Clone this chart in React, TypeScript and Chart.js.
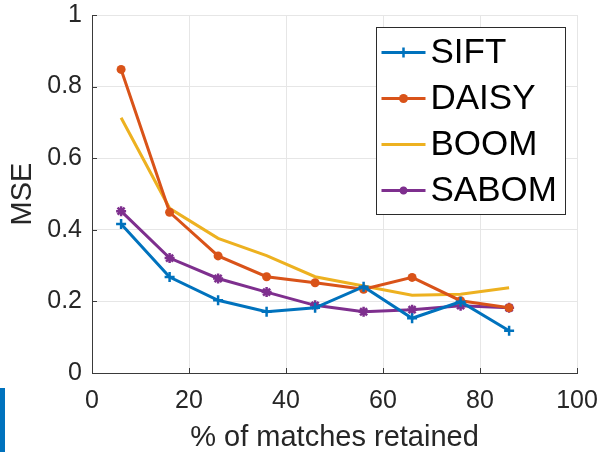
import { useEffect, useRef } from 'react';
import { Chart, registerables } from 'chart.js';

Chart.register(...registerables);

// Percentage of matches retained (x positions of every series)
const retained = [6, 16, 26, 36, 46, 56, 66, 76, 86];

// Mean squared error per descriptor
const siftMse = [0.416, 0.268, 0.203, 0.171, 0.182, 0.241, 0.153, 0.199, 0.118];
const daisyMse = [0.848, 0.449, 0.327, 0.269, 0.252, 0.234, 0.267, 0.202, 0.182];
const boomMse = [0.713, 0.46, 0.376, 0.328, 0.269, 0.243, 0.217, 0.22, 0.238];
const sabomMse = [0.452, 0.321, 0.264, 0.226, 0.189, 0.171, 0.177, 0.188, 0.182];

const seriesNames = ['SIFT', 'DAISY', 'BOOM', 'SABOM'];
const seriesColors = ['#0072BD', '#D95319', '#EDB120', '#7E2F8E'];
const seriesMarkers = ['cross', 'circle', false, 'star'] as const;

const xTicks = [0, 20, 40, 60, 80, 100];
const yTicks = [0, 0.2, 0.4, 0.6, 0.8, 1];

const FONT = "'Liberation Sans', Arial, Helvetica, sans-serif";
const AXIS_COLOR = '#3a3a3a';

const toPoints = (ys: number[]) => retained.map((x, i) => ({ x, y: ys[i] }));

// Short inward tick marks on the left and bottom axes
const innerTicks = {
  id: 'innerTicks',
  afterDraw(chart: any) {
    const { ctx, chartArea, scales } = chart;
    ctx.save();
    ctx.strokeStyle = AXIS_COLOR;
    ctx.lineWidth = 1;
    ctx.beginPath();
    xTicks.forEach((v) => {
      const px = Math.round(scales.x.getPixelForValue(v)) + 0.5;
      ctx.moveTo(px, chartArea.bottom);
      ctx.lineTo(px, chartArea.bottom - 5);
    });
    yTicks.forEach((v) => {
      const py = Math.round(scales.y.getPixelForValue(v)) + 0.5;
      ctx.moveTo(chartArea.left, py);
      ctx.lineTo(chartArea.left + 5, py);
    });
    ctx.stroke();
    ctx.restore();
  },
};

function drawMarker(ctx: CanvasRenderingContext2D, kind: any, x: number, y: number, color: string) {
  ctx.save();
  ctx.strokeStyle = color;
  ctx.fillStyle = color;
  ctx.lineWidth = 2.5;
  if (kind === 'circle') {
    ctx.beginPath();
    ctx.arc(x, y, 4.5, 0, Math.PI * 2);
    ctx.fill();
  } else if (kind === 'cross') {
    ctx.beginPath();
    ctx.moveTo(x - 5, y);
    ctx.lineTo(x + 5, y);
    ctx.moveTo(x, y - 5);
    ctx.lineTo(x, y + 5);
    ctx.stroke();
  } else if (kind === 'star') {
    const r = 4;
    ctx.beginPath();
    ctx.moveTo(x - r, y);
    ctx.lineTo(x + r, y);
    ctx.moveTo(x, y - r);
    ctx.lineTo(x, y + r);
    ctx.moveTo(x - r * 0.7, y - r * 0.7);
    ctx.lineTo(x + r * 0.7, y + r * 0.7);
    ctx.moveTo(x - r * 0.7, y + r * 0.7);
    ctx.lineTo(x + r * 0.7, y - r * 0.7);
    ctx.stroke();
  }
  ctx.restore();
}

// Boxed legend in the upper-right corner of the plot area
const boxLegend = {
  id: 'boxLegend',
  afterDraw(chart: any) {
    const { ctx, chartArea } = chart;
    const w = 189;
    const h = 187;
    const left = Math.round(chartArea.right - 201) + 0.5;
    const top = Math.round(chartArea.top + 12) + 0.5;
    ctx.save();
    ctx.fillStyle = '#ffffff';
    ctx.fillRect(left, top, w, h);
    ctx.strokeStyle = '#2b2b2b';
    ctx.lineWidth = 1;
    ctx.strokeRect(left, top, w, h);
    ctx.font = `35px ${FONT}`;
    ctx.textBaseline = 'middle';
    ctx.textAlign = 'left';
    seriesNames.forEach((name, i) => {
      const cy = top + 25 + i * 46;
      const x0 = left + 5;
      const x1 = left + 49;
      ctx.strokeStyle = seriesColors[i];
      ctx.lineWidth = 3;
      ctx.beginPath();
      ctx.moveTo(x0, cy);
      ctx.lineTo(x1, cy);
      ctx.stroke();
      drawMarker(ctx, seriesMarkers[i], (x0 + x1) / 2, cy, seriesColors[i]);
      ctx.fillStyle = '#000000';
      ctx.fillText(name, left + 54, cy + 1);
    });
    ctx.restore();
  },
};

export default function App() {
  const canvasRef = useRef<HTMLCanvasElement | null>(null);

  useEffect(() => {
    const canvas = canvasRef.current;
    if (!canvas) return;
    const seriesData = [siftMse, daisyMse, boomMse, sabomMse];
    const chart = new Chart(canvas, {
      type: 'line',
      data: {
        datasets: seriesNames.map((name, i) => ({
          label: name,
          data: toPoints(seriesData[i]),
          borderColor: seriesColors[i],
          backgroundColor: seriesColors[i],
          borderWidth: 3,
          pointStyle: seriesMarkers[i] === false ? 'circle' : (seriesMarkers[i] as any),
          pointRadius: seriesMarkers[i] === false ? 0 : seriesMarkers[i] === 'circle' ? 4.5 : 5,
          pointBorderWidth: seriesMarkers[i] === 'circle' ? 0 : 2.5,
          pointBorderColor: seriesColors[i],
          pointBackgroundColor: seriesColors[i],
          tension: 0,
          fill: false,
        })),
      },
      options: {
        animation: false,
        responsive: false,
        maintainAspectRatio: false,
        layout: { padding: { top: 15, right: 27, left: 0, bottom: 0 }, autoPadding: false },
        plugins: {
          legend: { display: false },
          tooltip: { enabled: false },
        },
        scales: {
          x: {
            type: 'linear',
            min: 0,
            max: 100,
            afterBuildTicks: (scale: any) => {
              scale.ticks = xTicks.map((v) => ({ value: v }));
            },
            afterFit: (scale: any) => {
              scale.height = 79;
              scale.paddingLeft = 0;
              scale.paddingRight = 0;
              scale.paddingTop = 0;
              scale.paddingBottom = 0;
            },
            grid: { color: '#e6e6e6', drawTicks: false, lineWidth: 1 },
            border: { display: true, color: AXIS_COLOR, width: 1 },
            ticks: {
              padding: 13,
              color: '#262626',
              font: { family: FONT, size: 25 },
              maxRotation: 0,
              callback: (v: any) => String(v),
            },
            title: {
              display: true,
              text: '% of matches retained',
              color: '#262626',
              font: { family: FONT, size: 29, lineHeight: 1 },
              padding: { top: 0, bottom: 0 },
            },
          },
          y: {
            type: 'linear',
            min: 0,
            max: 1,
            afterBuildTicks: (scale: any) => {
              scale.ticks = yTicks.map((v) => ({ value: v }));
            },
            afterFit: (scale: any) => {
              scale.width = 92;
              scale.paddingLeft = 0;
              scale.paddingRight = 0;
              scale.paddingTop = 0;
              scale.paddingBottom = 0;
            },
            grid: { color: '#e6e6e6', drawTicks: false, lineWidth: 1 },
            border: { display: true, color: AXIS_COLOR, width: 1 },
            ticks: {
              padding: 10,
              color: '#262626',
              font: { family: FONT, size: 25 },
              callback: (v: any) => String(+Number(v).toFixed(1)),
            },
            title: {
              display: true,
              text: 'MSE',
              color: '#262626',
              font: { family: FONT, size: 29, lineHeight: 1 },
              padding: { top: 8, bottom: 0 },
            },
          },
        },
      },
      plugins: [innerTicks, boxLegend],
    });
    return () => chart.destroy();
  }, []);

  return (
    <div style={{ position: 'fixed', left: 0, top: 0, width: 604, height: 452, background: '#ffffff' }}>
      <canvas ref={canvasRef} width={604} height={452} style={{ display: 'block' }} />
      <div style={{ position: 'absolute', left: 0, top: 388, width: 5, height: 64, background: '#0072BD' }} />
    </div>
  );
}
